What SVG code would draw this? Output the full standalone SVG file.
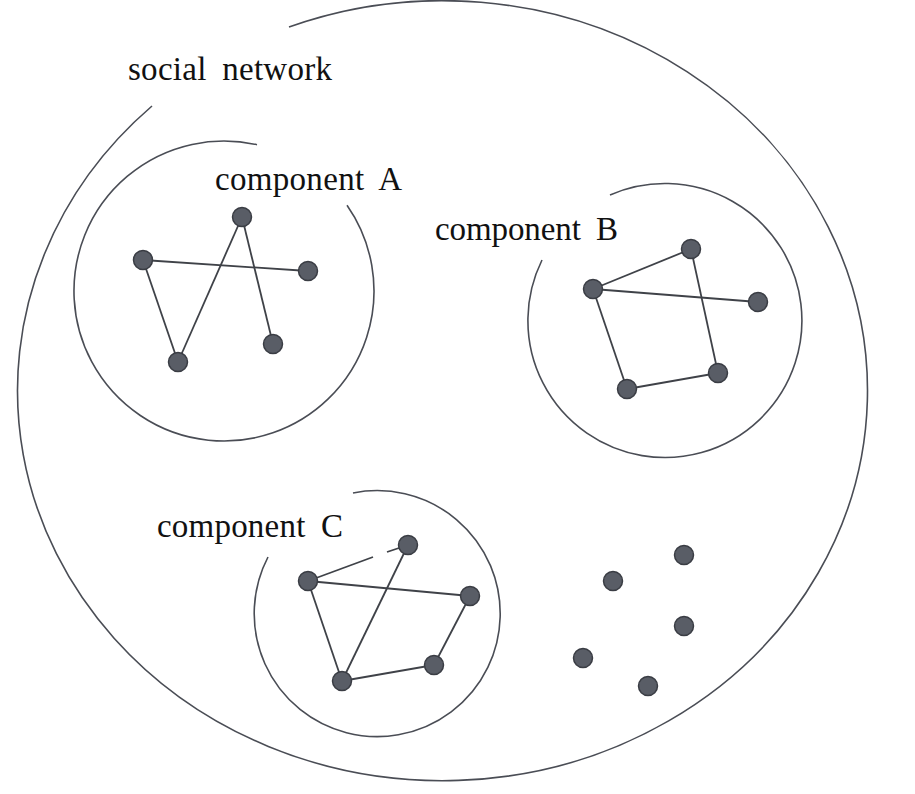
<svg xmlns="http://www.w3.org/2000/svg" width="915" height="794" viewBox="0 0 915 794">
<style>
.ring{fill:none;stroke:#4a4d55;stroke-width:1.6}
.edge{stroke:#3f4248;stroke-width:1.8;fill:none}
.node{fill:#595d66;stroke:#3a3d44;stroke-width:1.5}
.lbl{font-family:"Liberation Serif","Times New Roman",serif;font-size:33px;fill:#111;word-spacing:7px}
</style>
<rect width="915" height="794" fill="#ffffff"/>
<g id="social-network">
<path class="ring" d="M 289 27 A 425 390 0 1 1 152 106"/>
<text class="lbl" x="128" y="80" textLength="204" lengthAdjust="spacing">social network</text>
</g>
<g id="component-A">
<path class="ring" d="M 347 205.2 A 150 150 0 1 1 257 144.7"/>
<text class="lbl" x="215" y="190" textLength="187" lengthAdjust="spacing">component A</text>
</g>
<g id="component-B">
<path class="ring" d="M 610 195 A 137 137 0 1 1 542 260"/>
<text class="lbl" x="435" y="240" textLength="183" lengthAdjust="spacing">component B</text>
</g>
<g id="component-C">
<path class="ring" d="M 353 493 A 123 123 0 1 1 268 557"/>
<text class="lbl" x="157" y="537" textLength="186" lengthAdjust="spacing">component C</text>
</g>
<g id="connectors">
<line class="edge" x1="143" y1="260" x2="308" y2="271"/>
<line class="edge" x1="143" y1="260" x2="178" y2="362"/>
<line class="edge" x1="178" y1="362" x2="242" y2="217"/>
<line class="edge" x1="242" y1="217" x2="273" y2="344"/>
<line class="edge" x1="593" y1="289" x2="691" y2="249"/>
<line class="edge" x1="593" y1="289" x2="758" y2="302"/>
<line class="edge" x1="691" y1="249" x2="718" y2="373"/>
<line class="edge" x1="593" y1="289" x2="627" y2="389"/>
<line class="edge" x1="627" y1="389" x2="718" y2="373"/>
<line class="edge" x1="308" y1="581" x2="373" y2="557"/>
<line class="edge" x1="387" y1="552" x2="408" y2="545"/>
<line class="edge" x1="308" y1="581" x2="470" y2="596"/>
<line class="edge" x1="308" y1="581" x2="342" y2="681"/>
<line class="edge" x1="342" y1="681" x2="408" y2="545"/>
<line class="edge" x1="342" y1="681" x2="434" y2="665"/>
<line class="edge" x1="434" y1="665" x2="470" y2="596"/>
</g>
<g id="nodes-A">
<circle class="node" cx="242" cy="217" r="9.5"/>
<circle class="node" cx="143" cy="260" r="9.5"/>
<circle class="node" cx="308" cy="271" r="9.5"/>
<circle class="node" cx="178" cy="362" r="9.5"/>
<circle class="node" cx="273" cy="344" r="9.5"/>
</g>
<g id="nodes-B">
<circle class="node" cx="691" cy="249" r="9.5"/>
<circle class="node" cx="593" cy="289" r="9.5"/>
<circle class="node" cx="758" cy="302" r="9.5"/>
<circle class="node" cx="718" cy="373" r="9.5"/>
<circle class="node" cx="627" cy="389" r="9.5"/>
</g>
<g id="nodes-C">
<circle class="node" cx="408" cy="545" r="9.5"/>
<circle class="node" cx="308" cy="581" r="9.5"/>
<circle class="node" cx="470" cy="596" r="9.5"/>
<circle class="node" cx="434" cy="665" r="9.5"/>
<circle class="node" cx="342" cy="681" r="9.5"/>
</g>
<g id="isolated-nodes">
<circle class="node" cx="684" cy="555" r="9.5"/>
<circle class="node" cx="613" cy="581" r="9.5"/>
<circle class="node" cx="684" cy="626" r="9.5"/>
<circle class="node" cx="583" cy="658" r="9.5"/>
<circle class="node" cx="648" cy="686" r="9.5"/>
</g>
</svg>
